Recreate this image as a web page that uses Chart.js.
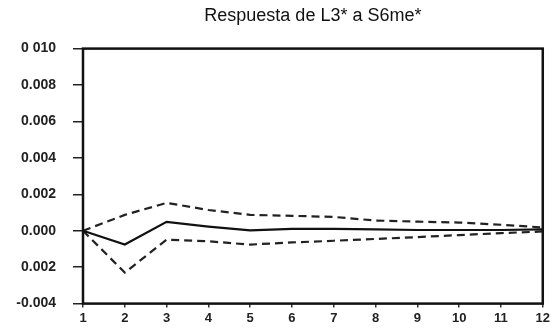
<!DOCTYPE html>
<html lang="es">
<head>
    <meta charset="UTF-8">
    <title>Respuesta de L3* a S6me*</title>
    <script src="https://cdn.jsdelivr.net/npm/chart.js"></script>
    <style>
        html, body { margin: 0; padding: 0; background: #fff; }
        #wrap { width: 553px; height: 329px; position: relative; }
    </style>
</head>
<body>
    <div id="wrap"><canvas id="irfChart"></canvas></div>

    <script>
        const periods = ['1', '2', '3', '4', '5', '6', '7', '8', '9', '10', '11', '12'];
        const response = [0.0, -0.00076, 0.00049, 0.00023, 0.00002, 0.0001, 0.0001, 0.00007, 0.00004, 0.00004, 0.00004, 0.00007];
        const upperBand = [0.0, 0.00087, 0.00153, 0.00114, 0.00087, 0.00082, 0.00076, 0.00056, 0.0005, 0.00045, 0.00033, 0.00018];
        const lowerBand = [0.0, -0.0023, -0.00049, -0.00058, -0.00076, -0.00064, -0.00055, -0.00045, -0.00035, -0.00024, -0.00013, -0.00004];
        const yTickValues = [-0.004, -0.002, 0.0, 0.002, 0.004, 0.006, 0.008, 0.010];
        const yTickLabels = ['-0.004', '0.002', '0.000', '0.002', '0.004', '0.006', '0.008', '0 010'];

        // black box round the plot area
        const frame = {
            id: 'frame',
            afterDraw(chart) {
                const a = chart.chartArea, ctx = chart.ctx;
                ctx.save();
                ctx.strokeStyle = '#111';
                ctx.lineWidth = 2.5;
                ctx.strokeRect(a.left, a.top, a.right - a.left, a.bottom - a.top);
                ctx.restore();
            }
        };

        const ctx = document.getElementById('irfChart').getContext('2d');
        new Chart(ctx, {
            type: 'line',
            data: {
                labels: periods,
                datasets: [
                    { data: response, borderColor: '#111', borderWidth: 2.2, pointRadius: 0, tension: 0 },
                    { data: upperBand, borderColor: '#222', borderWidth: 2.2, borderDash: [8, 5], pointRadius: 0, tension: 0 },
                    { data: lowerBand, borderColor: '#222', borderWidth: 2.2, borderDash: [8, 5], pointRadius: 0, tension: 0 }
                ]
            },
            options: {
                responsive: true,
                maintainAspectRatio: false,
                animation: false,
                layout: { padding: { top: 0, right: 9, bottom: 0, left: 0 } },
                plugins: {
                    legend: { display: false },
                    tooltip: { enabled: false },
                    title: {
                        display: true,
                        fullSize: false,
                        text: 'Respuesta de L3* a S6me*',
                        color: '#111',
                        font: { family: 'Liberation Sans, Arial, sans-serif', size: 18, weight: 'normal' },
                        padding: { top: 5, bottom: 22 }
                    }
                },
                scales: {
                    x: {
                        offset: false,
                        grid: { drawOnChartArea: false, tickLength: 4, tickColor: '#333', lineWidth: 1.5 },
                        border: { display: false },
                        ticks: {
                            color: '#222', maxRotation: 0, autoSkip: false, padding: 3,
                            font: { family: 'Liberation Sans, Arial, sans-serif', size: 13, weight: 'bold' }
                        },
                        afterFit(s) { s.height = 24; }
                    },
                    y: {
                        min: -0.004,
                        max: 0.010,
                        afterBuildTicks(s) { s.ticks = yTickValues.map(v => ({ value: v })); },
                        grid: { drawOnChartArea: false, tickLength: 10, tickColor: '#222', lineWidth: 1.5 },
                        border: { display: false },
                        ticks: {
                            color: '#222', padding: 17,
                            font: { family: 'Liberation Sans, Arial, sans-serif', size: 14, weight: 'bold' },
                            callback(v) {
                                const i = yTickValues.findIndex(t => Math.abs(t - v) < 1e-9);
                                return i >= 0 ? yTickLabels[i] : '';
                            }
                        },
                        afterFit(s) { s.width = 83; }
                    }
                }
            },
            plugins: [frame]
        });
    </script>
</body>
</html>
